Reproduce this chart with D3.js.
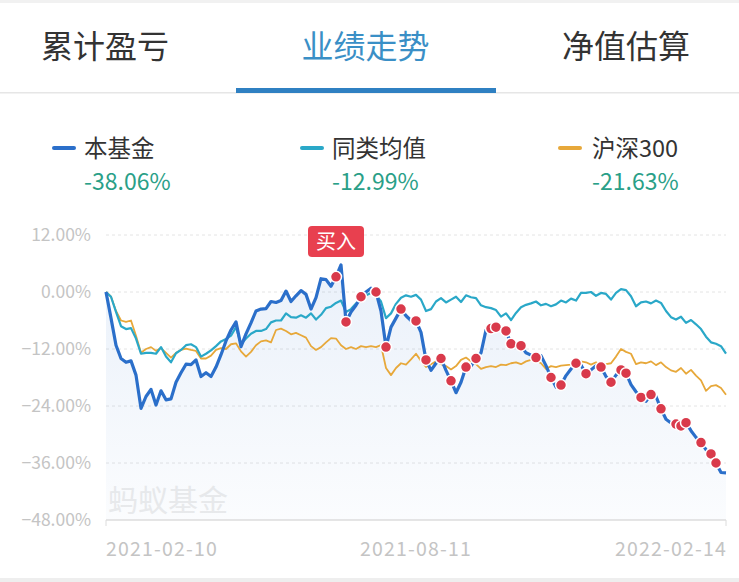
<!DOCTYPE html>
<html>
<head>
<meta charset="utf-8">
<script src="https://cdn.jsdelivr.net/npm/d3@7"></script>
<style>
  body { margin: 0; background: #fff; }
  text { font-family: "Noto Sans CJK SC", "Noto Sans", sans-serif; }
</style>
</head>
<body>
<div id="chart"></div>
<script>
// tabs and legend
const tabs = ["累计盈亏", "业绩走势", "净值估算"];
const seriesNames = ["本基金", "同类均值", "沪深300"];
const seriesReturns = ["-38.06%", "-12.99%", "-21.63%"];
const seriesColors = ["#2b6fca", "#2aa8c8", "#e7a83a"];

// axis
const yTicks = [12, 0, -12, -24, -36, -48];
const xTickLabels = ["2021-02-10", "2021-08-11", "2022-02-14"];

// cumulative return (%) sampled across the period
const fund = [0, -5.5, -11.2, -14.0, -14.8, -14.5, -17.5, -24.5, -22.0, -20.5,
  -23.8, -20.8, -22.7, -22.5, -19.0, -17.0, -15.2, -15.3, -14.3, -17.8,
  -17.0, -17.8, -15.8, -13.2, -10.3, -8.0, -6.3, -11.5, -8.8, -6.5,
  -4.0, -3.6, -3.5, -2.0, -2.2, -1.8, 0.2, -2.0, -0.8, 0.3,
  -0.5, -3.6, -1.2, 2.8, 2.6, 1.2, 3.2, 5.7, -6.3, -4.2,
  -2.8, -1.0, 0.0, 0.8, 0.0, -4.0, -11.6, -7.4, -5.5, -3.6,
  -5.0, -6.0, -6.1, -8.5, -14.3, -16.5, -15.0, -14.0, -16.5, -18.7,
  -21.2, -19.0, -15.8, -15.6, -14.0, -12.8, -8.0, -7.7, -7.4, -7.8,
  -8.2, -10.9, -11.5, -11.3, -12.8, -13.3, -13.8, -13.4, -15.5, -18.0,
  -20.0, -19.6, -17.6, -16.2, -15.0, -15.4, -17.2, -16.4, -15.5, -15.8,
  -17.8, -19.0, -17.5, -16.4, -17.1, -19.5, -21.0, -22.2, -23.0, -21.6,
  -22.0, -24.6, -26.8, -27.6, -27.8, -28.2, -27.5, -29.2, -30.6, -31.7,
  -33.2, -34.1, -36.0, -38.0, -38.06];

const peer = [0, -1.0, -4.2, -7.2, -7.8, -7.6, -9.8, -13.0, -12.8, -12.8,
  -13.0, -11.6, -13.6, -14.8, -12.9, -12.2, -11.2, -11.0, -11.6, -13.6,
  -13.0, -12.3, -11.4, -10.4, -9.9, -9.2, -7.4, -11.0, -9.8, -8.8,
  -8.2, -8.2, -7.8, -6.4, -6.0, -6.0, -4.5, -5.3, -5.4, -4.9,
  -5.4, -4.5, -5.8, -4.8, -3.4, -3.1, -2.3, -1.8, -4.2, -3.6,
  -2.4, -1.8, -0.7, -0.2, -0.6, -2.0, -5.5, -4.5, -2.5, -1.2,
  -0.7, -1.0, -0.6, -1.6, -4.0, -3.6, -2.0, -1.3, -2.2, -1.6,
  -1.0, -2.1, -0.7, -1.1, -1.3, -2.8, -3.2, -3.4, -3.8, -5.2,
  -4.5, -5.9, -4.4, -3.2, -2.7, -2.4, -2.0, -2.8, -2.5, -3.0,
  -2.6, -1.8, -2.2, -1.4, -1.8, -0.2, -0.2, 0.0, -0.8, -0.2,
  -0.4, -1.6, -0.2, 0.6, 0.4, -0.9, -3.0, -2.2, -2.0, -2.4,
  -1.8, -2.3, -4.0, -5.3, -5.8, -5.2, -6.5, -5.9, -6.8, -7.8,
  -9.4, -10.6, -10.9, -11.4, -12.99];

const csi300 = [0, -1.0, -4.0, -6.0, -6.3, -6.0, -9.2, -12.8, -12.0, -11.6,
  -12.4, -11.8, -12.8, -13.8, -12.8, -12.2, -11.9, -12.2, -12.4, -14.0,
  -14.0, -13.4, -12.2, -11.8, -12.0, -11.0, -10.8, -12.5, -13.6, -12.6,
  -11.2, -10.4, -10.2, -10.6, -8.0, -7.7, -8.2, -8.9, -8.6, -9.1,
  -9.6, -11.4, -12.2, -11.6, -10.6, -9.7, -9.8, -11.2, -12.0, -11.6,
  -12.0, -11.4, -11.6, -11.4, -11.6, -11.2, -16.0, -17.5, -16.0, -15.0,
  -15.3, -14.2, -13.0, -14.5, -15.8, -15.2, -14.6, -15.2, -15.6, -16.3,
  -15.6, -14.3, -13.8, -14.6, -15.2, -16.2, -15.8, -15.6, -15.8, -15.3,
  -15.4, -15.0, -14.8, -15.2, -14.6, -14.3, -14.4, -15.0, -16.2, -15.6,
  -15.8, -15.5, -15.4, -15.3, -15.0, -14.6, -14.8, -15.3, -14.8, -15.6,
  -15.2, -15.0, -13.6, -12.0, -12.6, -13.0, -15.2, -14.8, -15.0, -14.6,
  -15.4, -14.8, -15.8, -16.5, -16.8, -16.0, -17.2, -16.4, -17.6, -18.6,
  -20.8, -19.8, -19.6, -20.2, -21.63];

// positions (sample index) of trade markers on the fund line; first is the buy
const tradeIdx = [46, 48, 51, 54, 56, 59, 62, 64, 67, 69, 72, 74, 77, 78, 80,
  81, 83, 86, 89, 91, 94, 96, 99, 101, 103, 104, 107, 109, 111, 114, 115,
  116, 119, 121, 122];

const W = 739, H = 582;
const plot = {left: 106, right: 726, top: 235, bottom: 520};

const svg = d3.select("#chart").append("svg")
  .attr("width", W).attr("height", H);

svg.append("rect").attr("width", W).attr("height", H).attr("fill", "#fff");
svg.append("rect").attr("width", W).attr("height", 3).attr("fill", "#f1f1f1");
svg.append("rect").attr("y", H - 4).attr("width", W).attr("height", 4).attr("fill", "#eeeeee");

/* tabs */
const tabX = d3.scalePoint().domain(tabs).range([105, 626]);
svg.selectAll("text.tab").data(tabs).enter().append("text")
  .attr("class", "tab")
  .attr("x", d => tabX(d)).attr("y", 58)
  .attr("text-anchor", "middle")
  .attr("font-size", 32)
  .attr("fill", (d, i) => i === 1 ? "#3a8fc6" : "#333")
  .text(d => d);
svg.append("rect").attr("x", 0).attr("y", 92).attr("width", W).attr("height", 1.5).attr("fill", "#e6e6e6");
svg.append("rect").attr("x", 236).attr("y", 88).attr("width", 260).attr("height", 5).attr("fill", "#2f80c2");

/* legend */
const legX = [54, 302, 560];
const leg = svg.selectAll("g.leg").data(seriesNames).enter().append("g")
  .attr("class", "leg")
  .attr("transform", (d, i) => `translate(${legX[i]},0)`);
leg.append("line")
  .attr("x1", 0).attr("x2", 20).attr("y1", 148).attr("y2", 148)
  .attr("stroke", (d, i) => seriesColors[i]).attr("stroke-width", 4)
  .attr("stroke-linecap", "round");
leg.append("text")
  .attr("x", (d, i) => i === 2 ? 32 : 30).attr("y", 157)
  .attr("font-size", 23.5).attr("fill", "#333")
  .text(d => d);
leg.append("text")
  .attr("x", (d, i) => i === 2 ? 32 : 30).attr("y", 190)
  .attr("font-size", 23).attr("fill", "#2a9f88")
  .text((d, i) => seriesReturns[i]);

/* scales */
const n = fund.length;
const x = d3.scaleLinear().domain([0, n - 1]).range([plot.left, plot.right]);
const y = d3.scaleLinear().domain([-48, 12]).range([plot.bottom, plot.top]);

/* grid + y labels */
svg.selectAll("line.grid").data(yTicks.filter(d => d !== -48)).enter().append("line")
  .attr("class", "grid")
  .attr("x1", plot.left).attr("x2", plot.right)
  .attr("y1", d => y(d)).attr("y2", d => y(d))
  .attr("stroke", "#e4e4e4").attr("stroke-dasharray", "3,3");
svg.selectAll("text.ylab").data(yTicks).enter().append("text")
  .attr("class", "ylab")
  .attr("x", 91).attr("y", d => y(d) + 6)
  .attr("text-anchor", "end")
  .attr("font-size", 17.5).attr("fill", "#c4c4c4")
  .text(d => d3.format(".2f")(d) + "%");

/* watermark */
svg.append("text").attr("x", 108).attr("y", 511)
  .attr("font-size", 30).attr("fill", "#ececec").text("蚂蚁基金");

/* area under fund */
const grad = svg.append("defs").append("linearGradient")
  .attr("id", "fundFill").attr("x1", 0).attr("x2", 0).attr("y1", 0).attr("y2", 1);
grad.append("stop").attr("offset", "0%").attr("stop-color", "#2b6fca").attr("stop-opacity", 0.10);
grad.append("stop").attr("offset", "100%").attr("stop-color", "#2b6fca").attr("stop-opacity", 0.02);

svg.append("path")
  .datum(fund)
  .attr("fill", "url(#fundFill)")
  .attr("d", d3.area().x((d, i) => x(i)).y0(plot.bottom).y1(d => y(d)));

/* x axis */
svg.append("line").attr("x1", plot.left).attr("x2", plot.right)
  .attr("y1", plot.bottom).attr("y2", plot.bottom)
  .attr("stroke", "#dcdcdc").attr("stroke-width", 1.5);
[plot.left, plot.right].forEach(px => {
  svg.append("line").attr("x1", px).attr("x2", px)
    .attr("y1", plot.bottom).attr("y2", plot.bottom + 6)
    .attr("stroke", "#dcdcdc");
});
const xTickPos = [0, (n - 1) / 2, n - 1];
svg.selectAll("text.xlab").data(xTickLabels).enter().append("text")
  .attr("class", "xlab")
  .attr("x", (d, i) => x(xTickPos[i]) + [0, 0, 1][i])
  .attr("y", 556)
  .attr("text-anchor", (d, i) => ["start", "middle", "end"][i])
  .attr("font-size", 19.5).attr("letter-spacing", 1.2).attr("fill", "#c4c4c4")
  .text(d => d);

/* lines */
const line = d3.line().x((d, i) => x(i)).y(d => y(d));
[[csi300, 2, 1.8], [peer, 1, 2.2], [fund, 0, 3.2]].forEach(([data, ci, w]) => {
  svg.append("path").datum(data)
    .attr("fill", "none")
    .attr("stroke", seriesColors[ci])
    .attr("stroke-width", w)
    .attr("stroke-linejoin", "round")
    .attr("d", line);
});

/* trade markers */
svg.selectAll("circle.trade").data(tradeIdx).enter().append("circle")
  .attr("class", "trade")
  .attr("cx", d => x(d)).attr("cy", d => y(fund[d]))
  .attr("r", 5.5)
  .attr("fill", "#d93a4b")
  .attr("stroke", "#fff").attr("stroke-width", 1.5);

/* buy label */
const bx = x(tradeIdx[0]), by = 226;
svg.append("rect")
  .attr("x", bx - 28).attr("y", by).attr("width", 56).attr("height", 31)
  .attr("rx", 4).attr("fill", "#e8404f");
svg.append("text")
  .attr("x", bx).attr("y", by + 23)
  .attr("text-anchor", "middle")
  .attr("font-size", 20).attr("fill", "#fff")
  .text("买入");
</script>
</body>
</html>
